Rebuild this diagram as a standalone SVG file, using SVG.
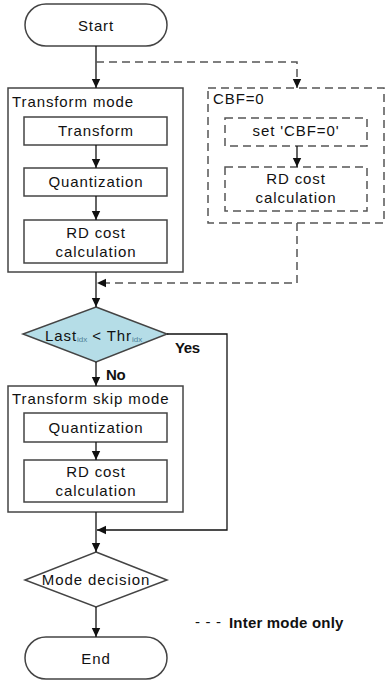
<svg xmlns="http://www.w3.org/2000/svg" width="386" height="683" viewBox="0 0 386 683">
<defs>
<marker id="ah" markerUnits="userSpaceOnUse" markerWidth="10" markerHeight="10" refX="9" refY="5" orient="auto">
<path d="M0,0.8 L9,5 L0,9.2 Z" fill="#111"/>
</marker>
</defs>
<style>
text{font-family:"Liberation Sans",Arial,sans-serif;font-size:15px;fill:#111;letter-spacing:0.9px}
.c{text-anchor:middle}
.b{font-weight:bold;letter-spacing:-0.4px}
.box{fill:#fff;stroke:#444;stroke-width:1.5}
.dbox{fill:#fff;stroke:#555;stroke-width:1.5;stroke-dasharray:8 5}
.ln{fill:none;stroke:#111;stroke-width:1.3}
.dl{fill:none;stroke:#555;stroke-width:1.5;stroke-dasharray:8 5}
.sub{font-size:8px;fill:#4f7f96;letter-spacing:0}
</style>
<g id="start">
<rect class="box" x="25" y="4" width="142" height="42" rx="21"/>
<text class="c" x="96" y="31">Start</text>
</g>
<g id="transform-mode">
<rect class="box" x="8" y="88" width="175" height="184"/>
<text x="12" y="107">Transform mode</text>
</g>
<g id="transform">
<rect class="box" x="24" y="117" width="143" height="28"/>
<text class="c" x="96" y="136">Transform</text>
</g>
<g id="quantization1">
<rect class="box" x="24" y="168" width="143" height="28"/>
<text class="c" x="96" y="187">Quantization</text>
</g>
<g id="rdcost1">
<rect class="box" x="24" y="220" width="143" height="43"/>
<text class="c" x="96" y="238">RD cost</text>
<text class="c" x="96" y="257">calculation</text>
</g>
<g id="cbf0">
<rect class="dbox" x="208" y="88" width="176" height="135"/>
<text x="213" y="104">CBF=0</text>
</g>
<g id="set-cbf">
<rect class="dbox" x="225" y="118" width="142" height="28"/>
<text class="c" x="296" y="136">set 'CBF=0'</text>
</g>
<g id="rdcost-cbf">
<rect class="dbox" x="225" y="167" width="142" height="44"/>
<text class="c" x="296" y="184">RD cost</text>
<text class="c" x="296" y="203">calculation</text>
</g>
<g id="decision">
<path d="M96,307 L167,334 L96,362 L23,334 Z" fill="#b5dde7" stroke="#444" stroke-width="1.5"/>
<text x="45" y="341">Last<tspan class="sub" dy="1">idx</tspan><tspan dy="-1"> &lt; Thr</tspan><tspan class="sub" dy="1">idx</tspan></text>
</g>
<text class="b" x="175" y="353" font-size="14">Yes</text>
<text class="b" x="106" y="380" font-size="14">No</text>
<g id="transform-skip-mode">
<rect class="box" x="8" y="386" width="175" height="126"/>
<text x="12" y="404">Transform skip mode</text>
</g>
<g id="quantization2">
<rect class="box" x="24" y="413" width="143" height="29"/>
<text class="c" x="96" y="433">Quantization</text>
</g>
<g id="rdcost2">
<rect class="box" x="24" y="460" width="143" height="42"/>
<text class="c" x="96" y="477">RD cost</text>
<text class="c" x="96" y="496">calculation</text>
</g>
<g id="mode-decision">
<path d="M96,552 L167,580 L96,607 L25,580 Z" fill="#fff" stroke="#444" stroke-width="1.5"/>
<text class="c" x="96" y="585">Mode decision</text>
</g>
<g id="end">
<rect class="box" x="25" y="637" width="142" height="42" rx="21"/>
<text class="c" x="96" y="664">End</text>
</g>
<g id="legend">
<text x="195" y="627" font-size="13" textLength="27">---</text>
<text class="b" x="229" y="628" font-size="14" textLength="114">Inter mode only</text>
</g>
<g id="connectors">
<path class="ln" d="M96,46 V88" marker-end="url(#ah)"/>
<path class="dl" d="M96,62 H297 V88" marker-end="url(#ah)"/>
<path class="ln" d="M96,145 V168" marker-end="url(#ah)"/>
<path class="ln" d="M96,196 V220" marker-end="url(#ah)"/>
<path class="ln" d="M297,146 V167" marker-end="url(#ah)"/>
<path class="dl" d="M297,223 V283 H97" marker-end="url(#ah)"/>
<path class="ln" d="M96,272 V307" marker-end="url(#ah)"/>
<path class="ln" d="M96,362 V386" marker-end="url(#ah)"/>
<path class="ln" d="M96,442 V460" marker-end="url(#ah)"/>
<path class="ln" d="M96,512 V552" marker-end="url(#ah)"/>
<path class="ln" d="M167,334 H227 V530 H97" marker-end="url(#ah)"/>
<path class="ln" d="M96,607 V637" marker-end="url(#ah)"/>
</g>
</svg>
